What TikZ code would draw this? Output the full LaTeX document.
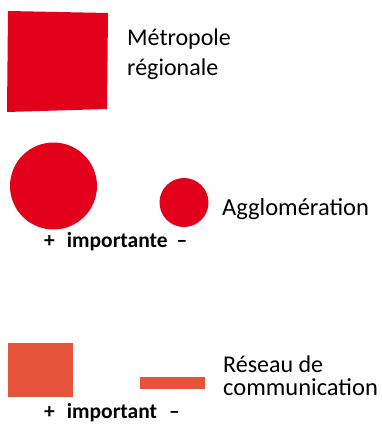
\documentclass[tikz,border=0pt]{standalone}
\usepackage{fontspec}
\setmainfont{Carlito}
\definecolor{legred}{RGB}{226,0,26}
\definecolor{legorange}{RGB}{229,83,58}
\begin{document}
\begin{tikzpicture}[x=1pt,y=-1pt,
  lbl/.style={anchor=base west,inner sep=0pt,font=\fontsize{24}{28}\selectfont,text=black},
  rangelbl/.style={anchor=base west,inner sep=0pt,font=\fontsize{21.5}{24}\selectfont\bfseries,text=black}]
\useasboundingbox (0,0) rectangle (381,428);
% Metropole regionale
\fill[legred] (8,11) -- (108,13) -- (107,109) -- (7,112) -- cycle;
\node[lbl] (met1) at (127,46) {Métropole};
\node[lbl] (met2) at (127,75) {régionale};
% Agglomeration
\fill[legred] (53.5,186) circle (43.5);
\fill[legred] (184,202.5) circle (24.5);
\node[lbl,font=\fontsize{24.5}{28}\selectfont] (agg) at (222,215) {Agglomération};
\node[rangelbl] (aggscale) at (44,247) {+\hspace{12pt}importante\hspace{9pt}–};
% Reseau
\fill[legorange] (8,343) rectangle (73,397);
\fill[legorange] (140,377) rectangle (205,389);
\node[lbl] (res1) at (223,372) {Réseau de};
\node[lbl,font=\fontsize{24.5}{28}\selectfont] (res2) at (223,395) {communication};
\node[rangelbl] (resscale) at (44,418) {+\hspace{12pt}important\hspace{12pt}–};
\end{tikzpicture}
\end{document}
